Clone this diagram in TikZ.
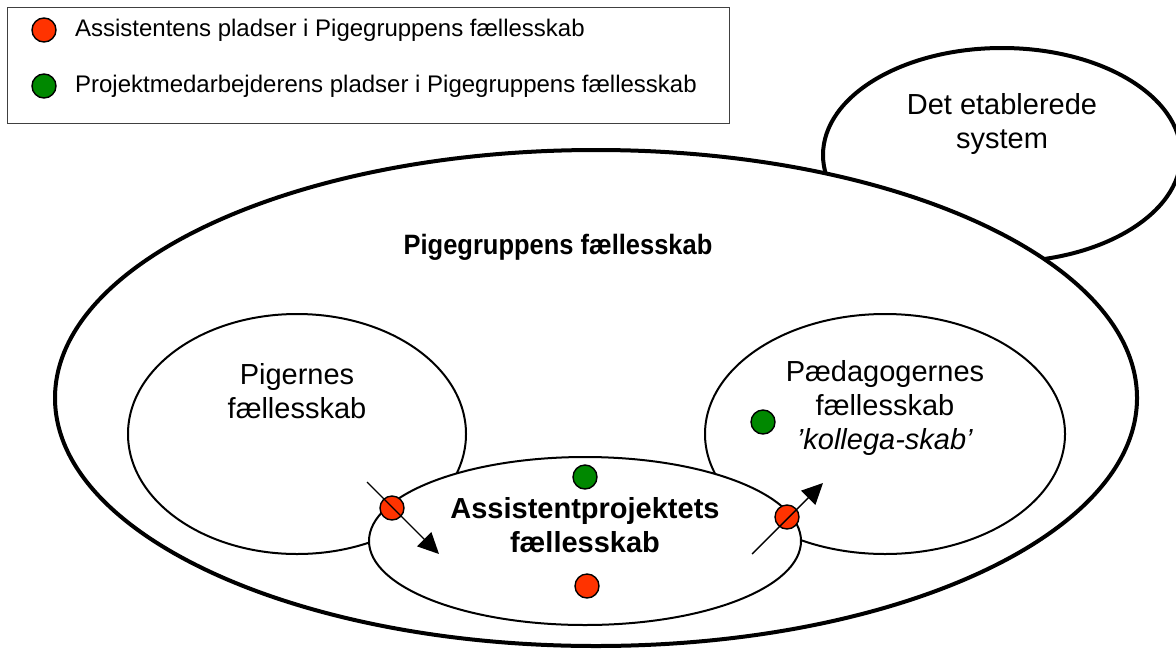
\documentclass[tikz,border=0pt]{standalone}
\usepackage{fontspec}
\setmainfont{Liberation Sans}
\newfontfamily\narrowfont[FakeStretch=0.91]{Liberation Sans}
\usepackage{tikz}
\usetikzlibrary{positioning}
\usetikzlibrary{arrows.meta,shapes}
\definecolor{dotred}{RGB}{255,51,0}
\definecolor{dotgreen}{RGB}{0,136,0}
\tikzstyle{ring}=[ellipse,draw,fill=white,line width=1pt,inner sep=0pt]
\tikzstyle{bigring}=[ellipse,draw,fill=white,line width=2pt,inner sep=0pt]
\tikzstyle{place}=[circle,draw,line width=0.7pt,minimum size=12pt,inner sep=0pt]
\tikzstyle{ringtext}=[align=center,font=\fontsize{14.5}{16.8}\selectfont,inner sep=0pt]
\tikzstyle{boldtext}=[align=center,font=\fontsize{14.5}{16.8}\selectfont\bfseries,inner sep=0pt]
\tikzstyle{legendtext}=[anchor=west,font=\fontsize{12}{14}\selectfont,inner sep=0pt]
\tikzstyle{moveline}=[draw,line width=0.7pt,-{Triangle[length=10.5pt,width=10pt]}]

\begin{document}
\begin{tikzpicture}[x=0.5pt,y=-0.5pt]
    \useasboundingbox (0,0) rectangle (1176,648);
    \clip (0,0) rectangle (1176,648);

    % The legend
    \draw[line width=0.5pt, draw=black!75] (7,7) rectangle (729,123);
    \foreach \pos/\name/\col/\txt in {{(44,30)/lred/dotred/Assistentens pladser i Pigegruppens fællesskab}, {(44,86)/lgreen/dotgreen/Projektmedarbejderens pladser i Pigegruppens fællesskab}}
    {
        \node[place, fill=\col] (\name) at \pos {};
        \node[legendtext, right=9pt of \name] (\name txt) {\txt};
    }

    % First we draw the communities
    \node[bigring, minimum width=179pt, minimum height=107pt] (system) at (1002,155) {};
    \node[bigring, minimum width=541pt, minimum height=248pt] (pigegruppe) at (596,398) {};
    \node[ring, minimum width=169pt, minimum height=120pt] (piger) at (297,434) {};
    \node[ring, minimum width=180pt, minimum height=120pt] (paed) at (885,434) {};
    \node[ring, minimum width=216pt, minimum height=84pt] (projekt) at (585,541) {};

    % Names of the communities
    \node[ringtext] (systemtxt) at (1002,124) {Det etablerede\\system};
    \node[boldtext, font=\fontsize{14}{16}\selectfont\narrowfont\bfseries] (pigegruppetxt) at (558,247) {Pigegruppens fællesskab};
    \node[ringtext] (pigertxt) at (297,391) {Pigernes\\fællesskab};
    \node[ringtext] (paedtxt) at (885,408) {Pædagogernes\\fællesskab\\\textit{'kollega-skab'}};
    \node[boldtext] (projekttxt) at (585,525) {Assistentprojektets\\fællesskab};

    % Then the places
    \foreach \pos/\name/\col in {(392,508)/p1/dotred, (787,517)/p2/dotred, (587,586)/p3/dotred, (585,477)/p4/dotgreen, (763,422)/p5/dotgreen}
        \node[place, fill=\col] (\name) at \pos {};

    % Moves in and out
    \coordinate (in1) at (367,482);
    \coordinate (in2) at (439,554);
    \coordinate (out1) at (752,554);
    \coordinate (out2) at (823,483);
    \draw[moveline] (in1) -- (in2);
    \draw[moveline] (out1) -- (out2);

\end{tikzpicture}
\end{document}
